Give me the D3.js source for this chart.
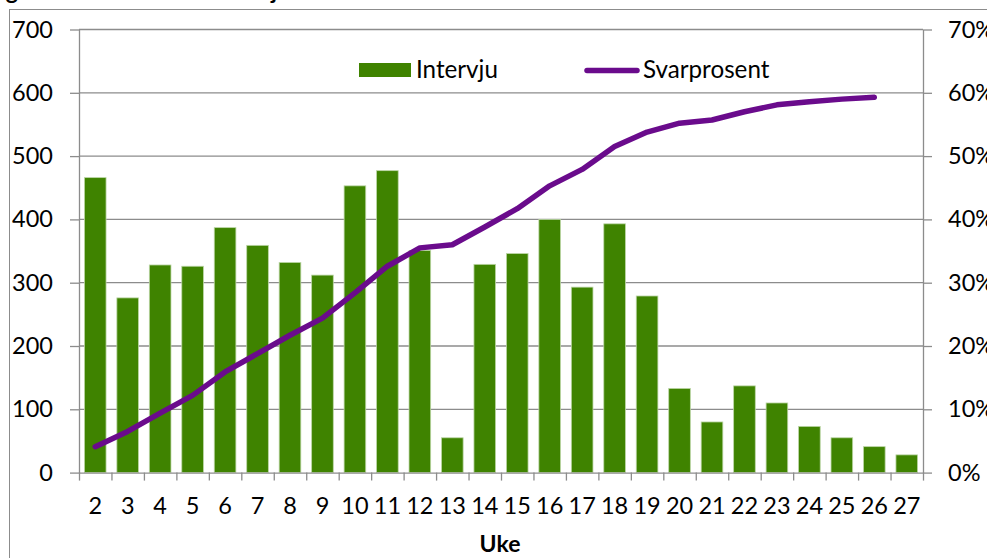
<!DOCTYPE html>
<html>
<head>
<meta charset="utf-8">
<script src="https://cdn.jsdelivr.net/npm/d3@7"></script>
<style>
  html, body { margin: 0; padding: 0; background: #fff; }
  svg { display: block; }
  text { font-family: Lato, "Open Sans", sans-serif; fill: #000; }
</style>
</head>
<body>
<svg id="chart" width="987" height="558"></svg>
<script>
// ---- Data ----
const weeks = ["2","3","4","5","6","7","8","9","10","11","12","13","14","15","16","17","18","19","20","21","22","23","24","25","26","27"];
const intervju = [466, 276, 328, 326, 387, 359, 332, 312, 453, 477, 351, 55, 329, 346, 400, 293, 393, 279, 133, 80, 137, 110, 73, 55, 41, 28];
const svarprosent = [0.041, 0.065, 0.094, 0.122, 0.159, 0.188, 0.217, 0.244, 0.284, 0.326, 0.355, 0.360, 0.388, 0.417, 0.453, 0.479, 0.515, 0.538, 0.552, 0.557, 0.570, 0.581, 0.586, 0.590, 0.593, null];
const leftTicks = [0, 100, 200, 300, 400, 500, 600, 700];
const rightTicks = [0, 0.1, 0.2, 0.3, 0.4, 0.5, 0.6, 0.7];
const seriesNames = ["Intervju", "Svarprosent"];
const xTitle = "Uke";
const figTitle = "Figur 1. Antall utførte intervju etter uke";

// ---- Layout ----
const L = 79, R = 923, T = 29.5, B = 472.6;
const barColor = "#3f8300", lineColor = "#6a0b8c", gridColor = "#8c8c8c";
const fs = 23.5;

const svg = d3.select("#chart");

// cropped caption above the chart
svg.append("text").attr("x", -13).attr("y", -1)
  .attr("font-size", 23).attr("font-weight", "bold").text(figTitle);

// chart border
svg.append("rect").attr("x", 9.5).attr("y", 9.5).attr("width", 1000).attr("height", 600)
  .attr("fill", "none").attr("stroke", "#8c8c8c").attr("stroke-width", 1);

const x = d3.scaleBand().domain(weeks).range([L, R]).paddingInner(1/3).paddingOuter(1/6);
const xb = d3.scaleLinear().domain([0, weeks.length]).range([L, R]);
const y = d3.scaleLinear().domain([0, 700]).range([B, T]);
const y2 = d3.scaleLinear().domain([0, 0.7]).range([B, T]);

// gridlines
svg.append("g").selectAll("line").data(leftTicks.slice(1)).join("line")
  .attr("x1", L).attr("x2", R)
  .attr("y1", d => y(d)).attr("y2", d => y(d))
  .attr("stroke", gridColor).attr("stroke-width", 1.3);

// bars
svg.append("g").selectAll("rect").data(weeks).join("rect")
  .attr("x", d => x(d))
  .attr("width", x.bandwidth())
  .attr("y", (d, i) => y(intervju[i]))
  .attr("height", (d, i) => y(0) - y(intervju[i]))
  .attr("fill", barColor)
  .attr("stroke", "#bcd6a6").attr("stroke-width", 0.8);

// axes
function styleAxis(g) {
  g.selectAll(".domain").attr("stroke", gridColor).attr("stroke-width", 1.3);
  g.selectAll(".tick line").attr("stroke", gridColor).attr("stroke-width", 1.3);
  g.selectAll("text").attr("font-size", fs).attr("font-family", "Lato, 'Open Sans', sans-serif").attr("fill", "#000");
}

svg.append("g").attr("transform", `translate(${L},0)`)
  .call(d3.axisLeft(y).tickValues(leftTicks).tickSize(9).tickSizeOuter(0).tickPadding(17).tickFormat(d3.format("d")))
  .call(styleAxis);

svg.append("g").attr("transform", `translate(${R},0)`)
  .call(d3.axisRight(y2).tickValues(rightTicks).tickSize(9).tickSizeOuter(0).tickPadding(16).tickFormat(d3.format(".0%")))
  .call(styleAxis);

// x axis boundary ticks
svg.append("g").attr("transform", `translate(0,${B})`)
  .call(d3.axisBottom(xb).tickValues(d3.range(0, weeks.length + 1)).tickSize(8).tickSizeOuter(0).tickFormat(""))
  .call(styleAxis);

// x axis labels
svg.append("g").attr("transform", `translate(0,${B})`)
  .call(d3.axisBottom(x).tickSize(0).tickPadding(25))
  .call(g => g.select(".domain").remove())
  .call(styleAxis);

// line
const lineGen = d3.line()
  .defined(d => d[1] != null)
  .x(d => x(d[0]) + x.bandwidth() / 2)
  .y(d => y2(d[1]));
svg.append("path")
  .datum(weeks.map((w, i) => [w, svarprosent[i]]))
  .attr("d", lineGen)
  .attr("fill", "none").attr("stroke", lineColor).attr("stroke-width", 5.5)
  .attr("stroke-linecap", "round").attr("stroke-linejoin", "round");

// x title
svg.append("text").attr("x", 500).attr("y", 551.5).attr("text-anchor", "middle")
  .attr("font-size", 23).attr("font-weight", "bold").text(xTitle);

// legend
const lg = svg.append("g");
lg.append("rect").attr("x", 359).attr("y", 63).attr("width", 52).attr("height", 14).attr("fill", barColor);
lg.append("text").attr("x", 416).attr("y", 78).attr("font-size", 24.2).text(seriesNames[0]);
lg.append("line").attr("x1", 587).attr("x2", 637).attr("y1", 70.5).attr("y2", 70.5)
  .attr("stroke", lineColor).attr("stroke-width", 5.5).attr("stroke-linecap", "round");
lg.append("text").attr("x", 643).attr("y", 78).attr("font-size", 24.2).text(seriesNames[1]);
</script>
</body>
</html>
